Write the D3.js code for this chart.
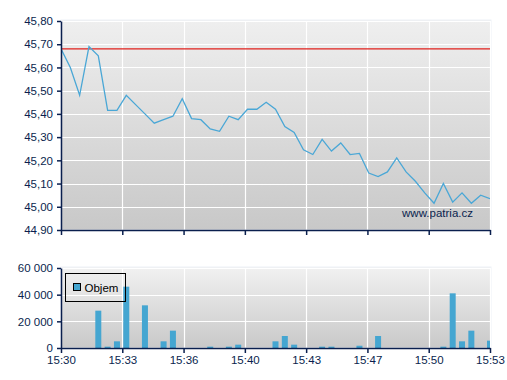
<!DOCTYPE html>
<html>
<head>
<meta charset="utf-8">
<script src="https://cdn.jsdelivr.net/npm/d3@7"></script>
<style>
  body { margin: 0; background: #fff; }
  svg text { font-family: Arial, "Liberation Sans", sans-serif; }
</style>
</head>
<body>
<div id="chart"></div>
<script>
// trade times, 30 second steps
const times = [
  "15:30:00", "15:30:30", "15:31:00", "15:31:30", "15:32:00", "15:32:30", "15:33:00", "15:33:30",
  "15:34:00", "15:34:30", "15:35:00", "15:35:30", "15:36:00", "15:36:30", "15:37:00", "15:37:30",
  "15:38:00", "15:38:30", "15:39:00", "15:39:30", "15:40:00", "15:40:30", "15:41:00", "15:41:30",
  "15:42:00", "15:42:30", "15:43:00", "15:43:30", "15:44:00", "15:44:30", "15:45:00", "15:45:30",
  "15:46:00", "15:46:30", "15:47:00", "15:47:30", "15:48:00", "15:48:30", "15:49:00", "15:49:30",
  "15:50:00", "15:50:30", "15:51:00", "15:51:30", "15:52:00", "15:52:30", "15:53:00"
];
const prices = [
  45.68, 45.60, 45.48, 45.69, 45.65, 45.415, 45.415, 45.48,
  45.44, 45.40, 45.36, 45.375, 45.39, 45.465, 45.38, 45.375,
  45.335, 45.325, 45.39, 45.375, 45.42, 45.42, 45.45, 45.42,
  45.345, 45.32, 45.245, 45.225, 45.29, 45.24, 45.275, 45.225,
  45.23, 45.145, 45.13, 45.15, 45.21, 45.15, 45.11, 45.06,
  45.015, 45.10, 45.02, 45.06, 45.015, 45.05, 45.035
];
const volumes = [
  0, 0, 0, 0, 28000, 1000, 5000, 46000,
  0, 32000, 0, 5000, 13000, 0, 0, 0,
  1000, 0, 1000, 2500, 0, 0, 0, 5000,
  9000, 2500, 0, 0, 1000, 1000, 0, 0,
  1700, 0, 9000, 0, 0, 0, 0, 0,
  0, 1000, 41000, 5000, 13000, 0, 5500
];
const refPrice = 45.68;
const priceTicks = [44.9, 45.0, 45.1, 45.2, 45.3, 45.4, 45.5, 45.6, 45.7, 45.8];
const volumeTicks = [0, 20000, 40000, 60000];
const timeLabels = ["15:30", "15:33", "15:36", "15:40", "15:43", "15:47", "15:50", "15:53"];

const W = 507, H = 380;
const left = 61, right = 490;
const main = { top: 21, bottom: 230 };
const vol = { top: 268, bottom: 348 };
const navy = "#0a1f4e";
const lineColor = "#4aa7d6";

const parse = d3.timeParse("%H:%M:%S");
const data = times.map((t, i) => ({ t: parse(t), p: prices[i], v: volumes[i] }));

const x = d3.scaleTime()
  .domain([data[0].t, data[data.length - 1].t])
  .range([left, right]);
const span = x.domain()[1] - x.domain()[0];
const tickDates = timeLabels.map((d, i) => new Date(+x.domain()[0] + span * i / (timeLabels.length - 1)));

const yP = d3.scaleLinear().domain([44.9, 45.8]).range([main.bottom, main.top]);
const yV = d3.scaleLinear().domain([0, 60000]).range([vol.bottom, vol.top]);

const svg = d3.select("#chart").append("svg")
  .attr("width", W).attr("height", H);

const defs = svg.append("defs");
function grad(id, c1, c2) {
  const g = defs.append("linearGradient").attr("id", id)
    .attr("x1", 0).attr("y1", 0).attr("x2", 0).attr("y2", 1);
  g.append("stop").attr("offset", "0%").attr("stop-color", c1);
  g.append("stop").attr("offset", "100%").attr("stop-color", c2);
}
grad("bgMain", "#efefef", "#c8c8c8");
grad("bgVol", "#f1f1f1", "#c9c9c9");

defs.append("clipPath").attr("id", "clipMain").append("rect")
  .attr("x", left).attr("y", main.top).attr("width", right - left).attr("height", main.bottom - main.top);
defs.append("clipPath").attr("id", "clipVol").append("rect")
  .attr("x", left).attr("y", vol.top).attr("width", right - left).attr("height", vol.bottom - vol.top);

const fmtPrice = d => d.toFixed(2).replace(".", ",");
const fmtVol = d => d3.format(",")(d).replace(/,/g, " ");

// ---- price panel ----
svg.append("rect")
  .attr("x", left).attr("y", main.top - 1)
  .attr("width", right - left + 1).attr("height", main.bottom - main.top + 1)
  .attr("fill", "url(#bgMain)").attr("stroke", "#eef2f7");

const gm = svg.append("g");
gm.selectAll("line.hg").data(priceTicks.slice(1)).join("line")
  .attr("x1", left).attr("x2", right)
  .attr("y1", d => Math.round(yP(d)) + 0.5).attr("y2", d => Math.round(yP(d)) + 0.5)
  .attr("stroke", "#fff").attr("stroke-width", 1.2);
gm.selectAll("line.vg").data(tickDates.slice(1)).join("line")
  .attr("x1", d => Math.round(x(d)) + 0.5).attr("x2", d => Math.round(x(d)) + 0.5)
  .attr("y1", main.top).attr("y2", main.bottom)
  .attr("stroke", "#fff").attr("stroke-width", 1.2);

gm.append("line")
  .attr("x1", left).attr("x2", right)
  .attr("y1", yP(refPrice)).attr("y2", yP(refPrice))
  .attr("stroke", "#e0201c").attr("stroke-width", 1.2);

gm.append("path")
  .datum(data)
  .attr("clip-path", "url(#clipMain)")
  .attr("fill", "none")
  .attr("stroke", lineColor)
  .attr("stroke-width", 1.3)
  .attr("d", d3.line().x(d => x(d.t)).y(d => yP(d.p)));

gm.append("text")
  .attr("x", 473).attr("y", 217)
  .attr("text-anchor", "end")
  .attr("font-size", 11.5)
  .attr("fill", navy)
  .text("www.patria.cz");

const axPL = svg.append("g")
  .attr("transform", `translate(${left},0)`)
  .call(d3.axisLeft(yP).tickValues(priceTicks).tickFormat(fmtPrice).tickSizeInner(4).tickSizeOuter(0).tickPadding(4));
const axPB = svg.append("g")
  .attr("transform", `translate(0,${main.bottom})`)
  .call(d3.axisBottom(x).tickValues(tickDates).tickFormat("").tickSizeInner(5).tickSizeOuter(0));

// ---- volume panel ----
svg.append("rect")
  .attr("x", left).attr("y", vol.top - 1)
  .attr("width", right - left + 1).attr("height", vol.bottom - vol.top + 1)
  .attr("fill", "url(#bgVol)").attr("stroke", "#eef2f7");

const gv = svg.append("g");
gv.selectAll("line.hg").data(volumeTicks.slice(1)).join("line")
  .attr("x1", left).attr("x2", right)
  .attr("y1", d => Math.round(yV(d)) + 0.5).attr("y2", d => Math.round(yV(d)) + 0.5)
  .attr("stroke", "#fff").attr("stroke-width", 1.2);
gv.selectAll("line.vg").data(tickDates.slice(1)).join("line")
  .attr("x1", d => Math.round(x(d)) + 0.5).attr("x2", d => Math.round(x(d)) + 0.5)
  .attr("y1", vol.top).attr("y2", vol.bottom)
  .attr("stroke", "#fff").attr("stroke-width", 1.2);

gv.append("g").attr("clip-path", "url(#clipVol)")
  .selectAll("rect").data(data.filter(d => d.v > 0)).join("rect")
  .attr("x", d => x(d.t) - 3)
  .attr("width", 6)
  .attr("y", d => yV(d.v))
  .attr("height", d => yV(0) - yV(d.v))
  .attr("fill", "#45a6d1");

// legend
const lg = svg.append("g").attr("transform", "translate(65.5,273.5)");
lg.append("rect").attr("width", 60).attr("height", 28)
  .attr("fill", "none").attr("stroke", "#000");
lg.append("rect").attr("x", 8).attr("y", 10).attr("width", 7).attr("height", 7)
  .attr("fill", "#45a6d1").attr("stroke", "#000");
lg.append("text").attr("x", 19).attr("y", 18.5)
  .attr("font-size", 11.5).attr("fill", "#000").text("Objem");

const axVL = svg.append("g")
  .attr("transform", `translate(${left},0)`)
  .call(d3.axisLeft(yV).tickValues(volumeTicks).tickFormat(fmtVol).tickSizeInner(4).tickSizeOuter(0).tickPadding(4));
const axVB = svg.append("g")
  .attr("transform", `translate(0,${vol.bottom})`)
  .call(d3.axisBottom(x).tickValues(tickDates).tickFormat((d, i) => timeLabels[i]).tickSizeInner(5).tickSizeOuter(0).tickPadding(3));

[axPL, axPB, axVL, axVB].forEach(ax => {
  ax.selectAll(".domain").attr("stroke", navy).attr("stroke-width", 1.5);
  ax.selectAll(".tick line").attr("stroke", navy).attr("stroke-width", 1.5);
  ax.selectAll("text").attr("fill", navy).attr("font-size", 11.5)
    .attr("font-family", "Arial, 'Liberation Sans', sans-serif");
});
</script>
</body>
</html>
